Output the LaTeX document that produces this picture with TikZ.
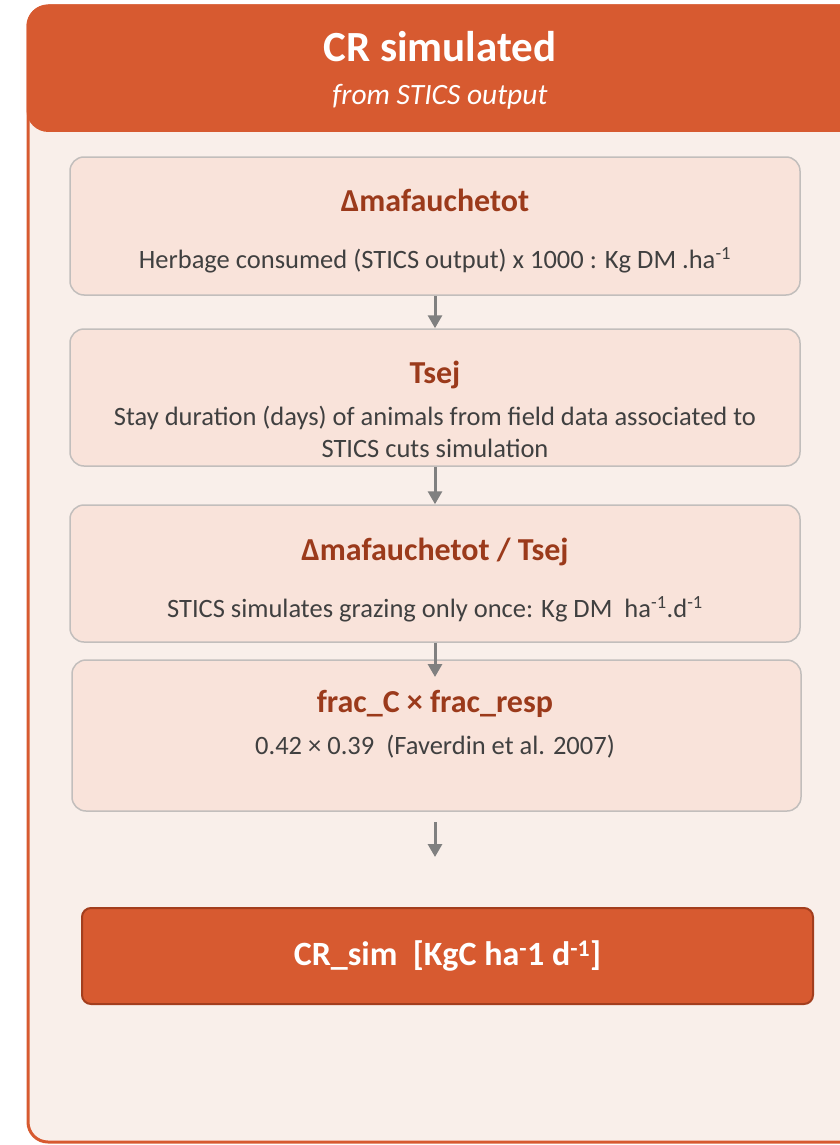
\documentclass[tikz,border=0pt]{standalone}
\usepackage{fontspec}
\setmainfont{Carlito}
\usepackage{tikz}
\usetikzlibrary{arrows.meta}
\definecolor{crorange}{HTML}{D75A30}
\definecolor{crdark}{HTML}{A33E1E}
\definecolor{panelbg}{HTML}{F9EFEA}
\definecolor{boxbg}{HTML}{F9E3DA}
\definecolor{boxline}{HTML}{C2BEBC}
\definecolor{ttlred}{HTML}{9B3A1B}
\definecolor{bodygray}{HTML}{404040}
\definecolor{arrgray}{HTML}{808080}
\tikzset{
  stepbox/.style={draw=boxline, line width=1.5pt, fill=boxbg, rounded corners=14pt, minimum width=730pt, inner sep=0pt},
  ttl/.style={text=ttlred, font=\fontsize{32}{36}\selectfont\bfseries},
  body/.style={text=bodygray, font=\fontsize{26.5}{32}\selectfont, align=center},
  flow/.style={draw=arrgray, line width=3pt, -{Triangle[length=13pt,width=14pt]}}
}
\begin{document}
\begin{tikzpicture}[x=1pt, y=-1pt]
\useasboundingbox (0,0) rectangle (840,1145);
\clip (0,0) rectangle (840,1145);
% panel and header
\draw[fill=panelbg, draw=crorange, line width=3pt, rounded corners=20pt] (28,6) rectangle (880,1142);
\fill[crorange, rounded corners=22pt] (26.5,4.5) rectangle (880,132);
\node[text=white, font=\fontsize{43}{48}\selectfont\bfseries] (head) at (440,47) {CR simulated};
\node[text=white, font=\fontsize{29.5}{34}\selectfont\itshape] (sub) at (440,97) {from STICS output};
% steps
\node[stepbox, minimum height=138pt] (b1) at (435,226) {};
\node[stepbox, minimum height=137pt] (b2) at (435,397.5) {};
\node[stepbox, minimum height=137pt] (b3) at (435,573.5) {};
\node[stepbox, minimum height=151pt, minimum width=729pt] (b4) at (436.5,735.5) {};
\node[ttl] (t1) at (435,200) {Δmafauchetot};
\node[body] (d1) at (435,260) {Herbage consumed (STICS output) x 1000 : Kg DM .ha\textsuperscript{-1}};
\node[ttl] (t2) at (435,375) {Tsej};
\node[body] (d2) at (435,432) {Stay duration (days) of animals from field data associated to\\STICS cuts simulation};
\node[ttl] (t3) at (435,552) {Δmafauchetot / Tsej};
\node[body] (d3) at (435,609) {STICS simulates grazing only once: Kg DM~~ha\textsuperscript{-1}.d\textsuperscript{-1}};
\node[ttl] (t4) at (435,704) {frac\_C × frac\_resp};
\node[body] (d4) at (435,747) {0.42 × 0.39~~(Faverdin et al. 2007)};
% result
\node[draw=crdark, line width=2pt, fill=crorange, rounded corners=9pt, minimum width=731pt, minimum height=96pt,
  text=white, font=\fontsize{34}{38}\selectfont\bfseries] (res) at (447.5,956) {CR\_sim~~[KgC ha\textsuperscript{-}1 d\textsuperscript{-1}]};
% arrows
\coordinate (a3) at (435,677);
\coordinate (a4s) at (435,822);
\coordinate (a4e) at (435,857);
\draw[flow] (b1.south) -- (b2.north);
\draw[flow] (b2.south) -- (b3.north);
\draw[flow] (b3.south) -- (a3);
\draw[flow] (a4s) -- (a4e);
\end{tikzpicture}
\end{document}
